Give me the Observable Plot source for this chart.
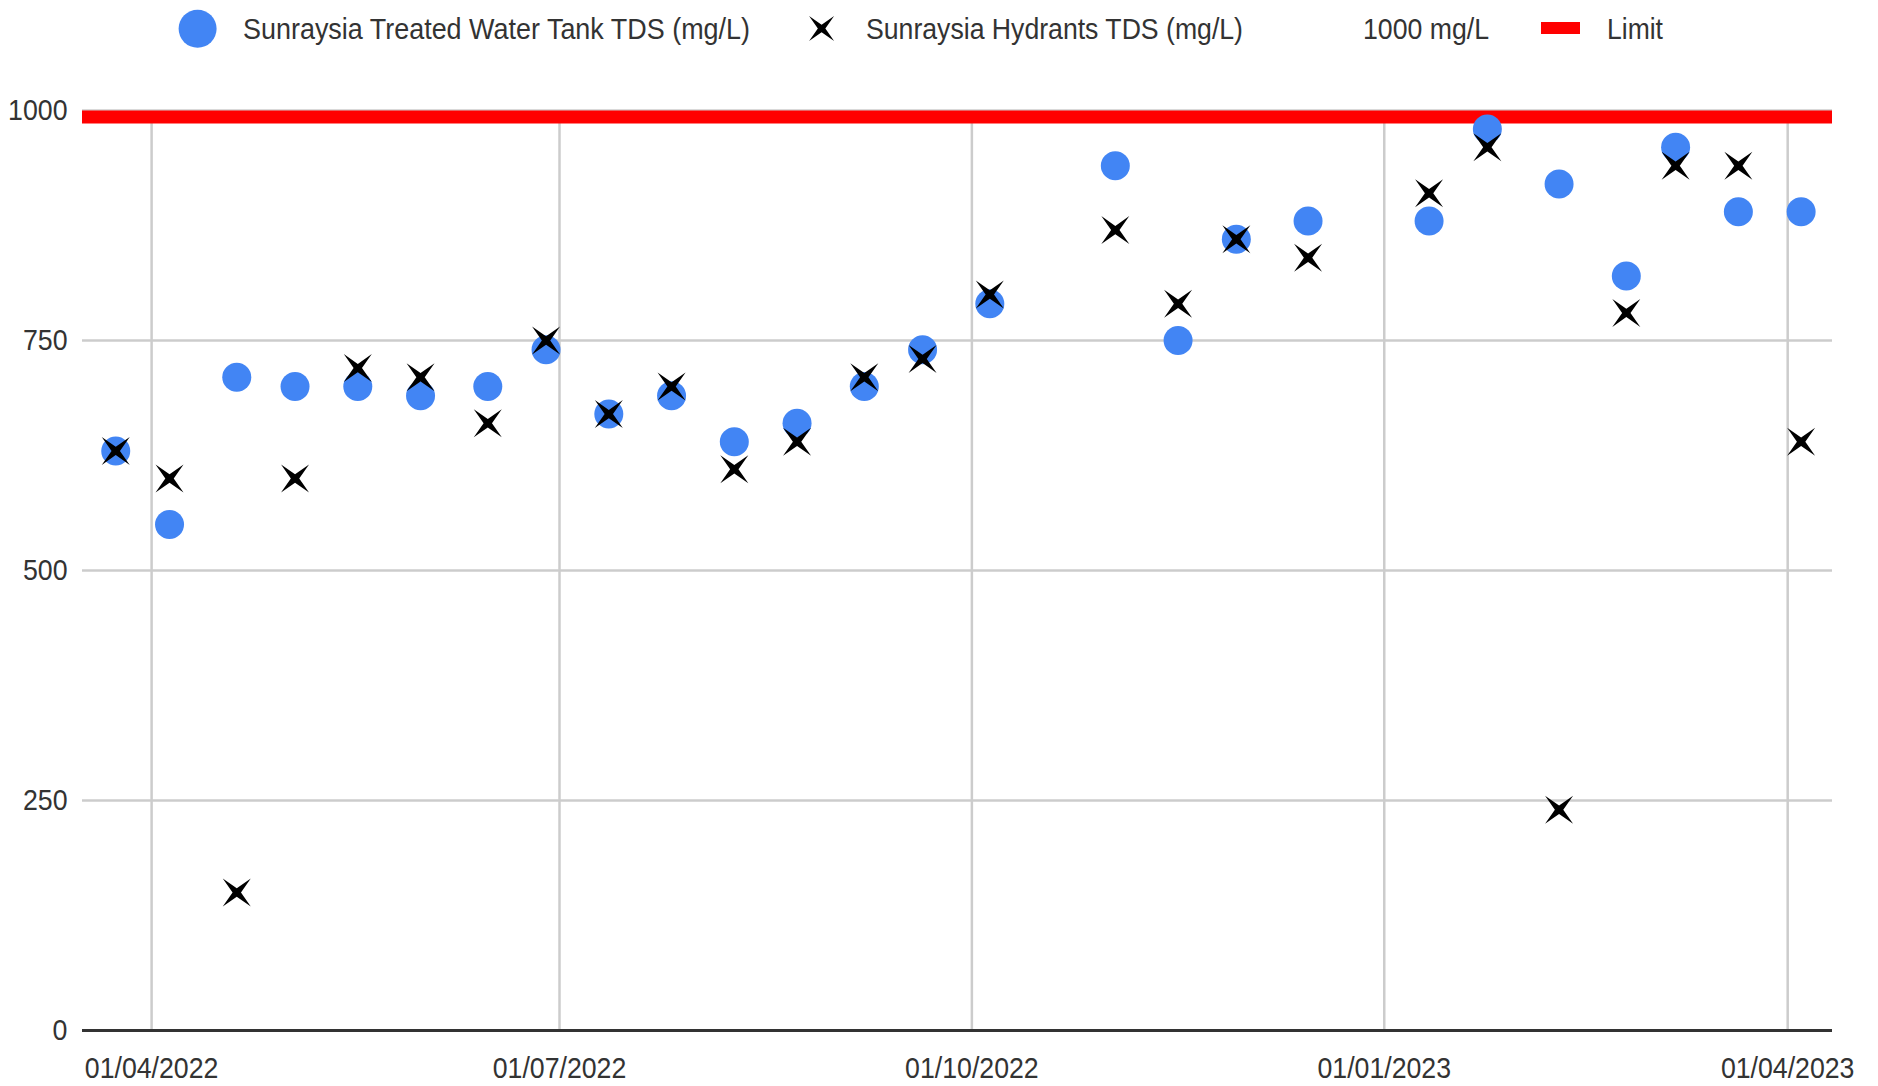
<!DOCTYPE html>
<html>
<head>
<meta charset="utf-8">
<script src="https://cdn.jsdelivr.net/npm/d3@7"></script>
<script src="https://cdn.jsdelivr.net/npm/@observablehq/plot@0.6"></script>
<style>
  html, body { margin: 0; padding: 0; background: #fff; }
  #legend { display: block; }
  #chart svg { display: block; }
</style>
</head>
<body>
<svg id="legend" width="1878" height="60"></svg>
<div id="chart"></div>
<script>
// ---- data ----
const sampleDates = [
  "2022-03-24","2022-04-05","2022-04-20","2022-05-03","2022-05-17","2022-05-31",
  "2022-06-15","2022-06-28","2022-07-12","2022-07-26","2022-08-09","2022-08-23",
  "2022-09-07","2022-09-20","2022-10-05","2022-11-02","2022-11-16","2022-11-29",
  "2022-12-15","2023-01-11","2023-01-24","2023-02-09","2023-02-24","2023-03-07",
  "2023-03-21","2023-04-04"
];
const tankTDS = [630,550,710,700,700,690,700,740,670,690,640,660,700,740,790,940,750,860,880,880,980,920,820,960,890,890];
const hydrantTDS = [630,600,150,600,720,710,660,750,670,700,610,640,710,730,800,870,790,860,840,910,960,240,780,940,940,640];
const limitValue = 1000;
const yTicks = [0, 250, 500, 750, 1000];
const xTickDates = ["2022-04-01","2022-07-01","2022-10-01","2023-01-01","2023-04-01"];
const xDomain = ["2022-03-16T14:00:00Z","2023-04-11T00:00:00Z"];
const seriesNames = ["Sunraysia Treated Water Tank TDS (mg/L)", "Sunraysia Hydrants TDS (mg/L)", "1000 mg/L", "Limit"];

// ---- styling ----
const FONT = '"Liberation Sans", Arial, sans-serif';
const FONT_SIZE = 29.5;
const SQUEEZE = 0.905;   // the reference uses a narrow face
const TEXT = "#333";
const BLUE = "#4285F4";

const data = sampleDates.map((d, i) => ({date: new Date(d), tank: tankTDS[i], hydrant: hydrantTDS[i]}));
const xTicks = xTickDates.map(d => new Date(d));
const fmt = d3.utcFormat("%d/%m/%Y");

// four-pointed concave "x" marker
const crossStar = {
  draw(ctx, size) {
    const R = Math.sqrt(size / Math.PI);
    const w = R * 0.3;
    ctx.moveTo(R, R);
    ctx.lineTo(0, w);
    ctx.lineTo(-R, R);
    ctx.lineTo(-w, 0);
    ctx.lineTo(-R, -R);
    ctx.lineTo(0, -w);
    ctx.lineTo(R, -R);
    ctx.lineTo(w, 0);
    ctx.closePath();
  }
};

const chart = Plot.plot({
  width: 1878,
  height: 1026,
  marginTop: 50,
  marginBottom: 56,
  marginLeft: 82,
  marginRight: 46,
  style: {fontFamily: FONT, fontSize: FONT_SIZE + "px", color: TEXT, background: "#fff", overflow: "visible"},
  x: {type: "utc", domain: xDomain.map(d => new Date(d)), ticks: xTicks, tickFormat: fmt, tickSize: 0, tickPadding: 27, label: null},
  y: {domain: [0, 1000], ticks: yTicks, tickFormat: d => String(d), tickSize: 0, tickPadding: 15, label: null},
  marks: [
    Plot.ruleY(yTicks, {stroke: "#ccc", strokeWidth: 2.5}),
    Plot.ruleX(xTicks, {stroke: "#ccc", strokeWidth: 2.5}),
    Plot.ruleY([limitValue], {stroke: "#ff0000", strokeWidth: 13, dy: 6.5}),
    Plot.ruleY([0], {stroke: "#333", strokeWidth: 3}),
    Plot.dot(data, {x: "date", y: "tank", r: 14.5, fill: BLUE, stroke: "none"}),
    Plot.dot(data, {x: "date", y: "hydrant", r: 14, symbol: crossStar, fill: "#000", stroke: "none"})
  ]
});
document.getElementById("chart").appendChild(chart);

// condense the tick labels to the narrow look of the reference
d3.select(chart).selectAll("text").each(function () {
  const L = this.getComputedTextLength();
  if (L > 0) {
    this.setAttribute("textLength", (L * SQUEEZE).toFixed(1));
    this.setAttribute("lengthAdjust", "spacingAndGlyphs");
  }
});

// ---- legend ----
const lg = d3.select("#legend").style("font-family", FONT).style("font-size", FONT_SIZE + "px");
lg.append("circle").attr("cx", 197.6).attr("cy", 28.7).attr("r", 19).attr("fill", BLUE);
lg.append("path").attr("transform", "translate(821.6,28.5)")
  .attr("d", d3.symbol(crossStar, Math.PI * 12.5 * 12.5)()).attr("fill", "#000");
lg.append("rect").attr("x", 1541).attr("y", 22).attr("width", 39).attr("height", 12).attr("fill", "#ff0000");
const legendText = [
  {x: 243, len: 507, t: seriesNames[0]},
  {x: 866, len: 377, t: seriesNames[1]},
  {x: 1363, len: 126, t: seriesNames[2]},
  {x: 1607, len: 56, t: seriesNames[3]}
];
legendText.forEach(d => {
  lg.append("text").attr("x", d.x).attr("y", 39).attr("fill", TEXT)
    .attr("textLength", d.len).attr("lengthAdjust", "spacingAndGlyphs").text(d.t);
});
</script>
</body>
</html>
